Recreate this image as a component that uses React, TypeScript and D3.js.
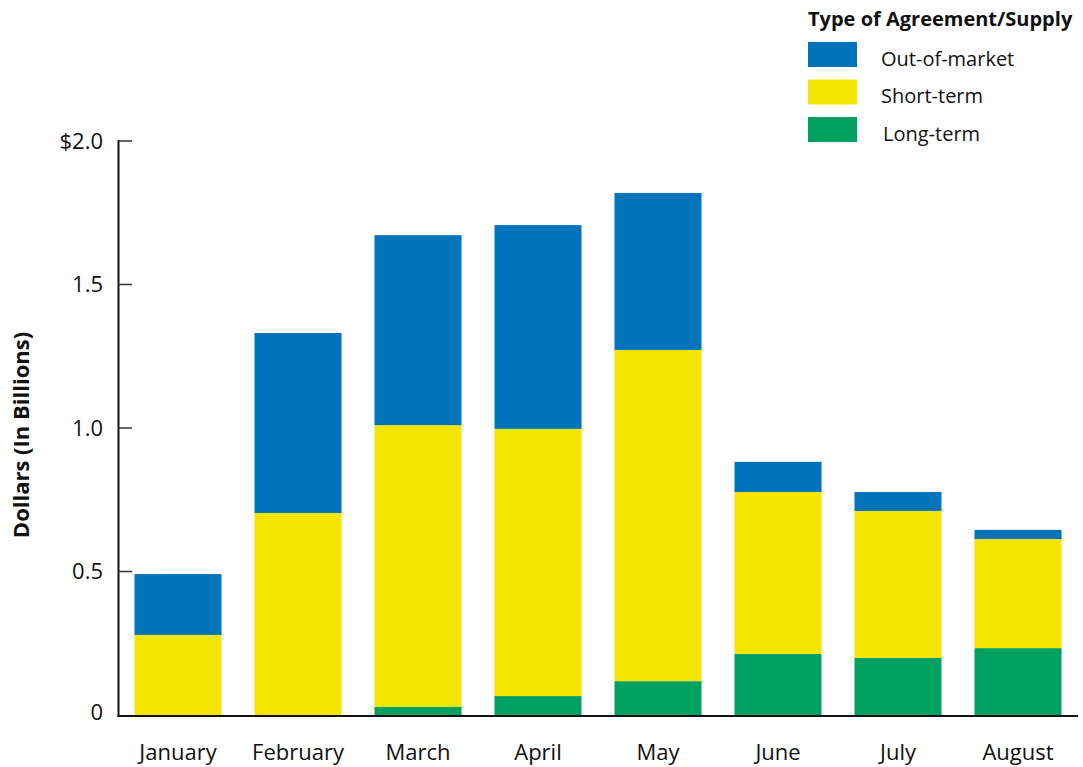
import React from "react";
import * as d3 from "d3";

const months = ["January", "February", "March", "April", "May", "June", "July", "August"];
const longTerm = [0.0, 0.0, 0.028, 0.066, 0.118, 0.213, 0.199, 0.233];
const shortTerm = [0.279, 0.704, 0.982, 0.931, 1.154, 0.564, 0.512, 0.38];
const outOfMarket = [0.212, 0.627, 0.662, 0.71, 0.547, 0.105, 0.066, 0.032];
const seriesKeys = ["longTerm", "shortTerm", "outOfMarket"];
const seriesColors = ["#00a060", "#f5e600", "#0073ba"];
const legendItems = [
  { label: "Out-of-market", color: "#0073ba" },
  { label: "Short-term", color: "#f5e600" },
  { label: "Long-term", color: "#00a060" },
];
const yTicks = [0, 0.5, 1.0, 1.5, 2.0];
const yTickLabels = ["0", "0.5", "1.0", "1.5", "$2.0"];

const FONT = "'Open Sans', sans-serif";

export default function App() {
  const W = 1083, H = 767;
  const x = d3.scaleBand<string>().domain(months).range([118, 1078]).paddingInner(0.275).paddingOuter(0.1375);
  const y = d3.scaleLinear().domain([0, 2]).range([715, 141]);
  const table = months.map((m, i) => ({ month: m, longTerm: longTerm[i], shortTerm: shortTerm[i], outOfMarket: outOfMarket[i] }));
  const stacked = d3.stack<any>().keys(seriesKeys)(table);

  return (
    <svg width={W} height={H} style={{ position: "absolute", left: 0, top: 0 }} fontFamily={FONT}>
      <rect width={W} height={H} fill="#fff" />
      {stacked.map((s, si) => (
        <g key={si} fill={seriesColors[si]}>
          {s.map((d, i) => (
            d[1] - d[0] > 0 ? (
              <rect key={i} x={x(months[i])} width={x.bandwidth()} y={y(d[1])} height={y(d[0]) - y(d[1])} />
            ) : null
          ))}
        </g>
      ))}
      {/* axes */}
      <line x1={118.5} x2={118.5} y1={140} y2={717} stroke="#111" strokeWidth={2} />
      <line x1={117.5} x2={1078} y1={716} y2={716} stroke="#111" strokeWidth={2} />
      {yTicks.map((t, i) => (
        <g key={i}>
          {t > 0 && <line x1={118} x2={132} y1={y(t)} y2={y(t)} stroke="#333" strokeWidth={1.5} />}
          <text x={103} y={t === 0 ? 712 : y(t)} dy="0.35em" textAnchor="end" fontSize={22} fill="#111">{yTickLabels[i]}</text>
        </g>
      ))}
      {months.map((m) => (
        <text key={m} x={(x(m) as number) + x.bandwidth() / 2} y={760} textAnchor="middle" fontSize={22} fill="#111">{m}</text>
      ))}
      <text transform="translate(29,435) rotate(-90)" textAnchor="middle" fontSize={22} fontWeight="bold" fill="#111">Dollars (In Billions)</text>
      {/* legend */}
      <text x={808} y={26} fontSize={20} fontWeight="bold" fill="#111">Type of Agreement/Supply</text>
      {legendItems.map((it, i) => (
        <g key={it.label}>
          <rect x={808} y={42 + i * 37.5} width={49} height={25} fill={it.color} />
          <text x={i === 2 ? 883 : 881} y={59 + i * 37.3} dy="0.35em" fontSize={20} fill="#111">{it.label}</text>
        </g>
      ))}
    </svg>
  );
}
